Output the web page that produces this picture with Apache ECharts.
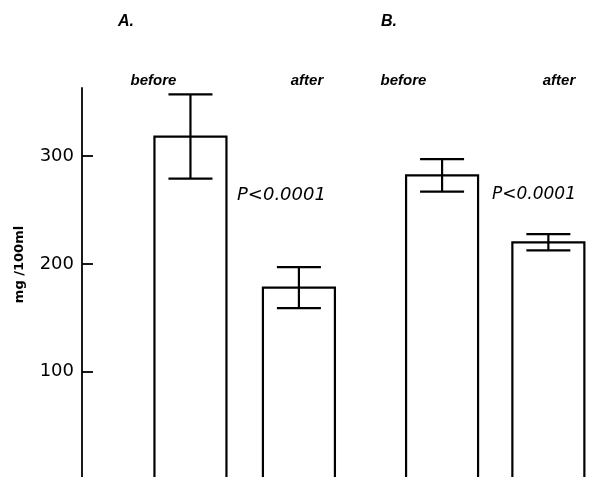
<!DOCTYPE html>
<html><head><meta charset="utf-8">
<script src="https://cdn.jsdelivr.net/npm/echarts@6/dist/echarts.min.js"></script>
<style>html,body{margin:0;padding:0;background:#fff}#c{width:595px;height:477px}</style>
</head><body><div id="c"></div>
<script>
// ---- data ----
const panels = ['A.', 'B.'];
const conditions = ['before', 'after', 'before', 'after'];
const xPositions = [1.0, 2.0, 3.32, 4.3];
const means = [318, 178, 282, 220];
const errors = [39, 19, 15, 7.5];
const yTicks = [100, 200, 300];
const pLabels = ['P<0.0001', 'P<0.0001'];
const yName = 'mg /100ml';

const data = means.map((m, i) => [xPositions[i], m, errors[i]]);

const chart = echarts.init(document.getElementById('c'), null, {renderer: 'canvas'});

const BAR_W = 72, CAP_W = 44;

chart.setOption({
  backgroundColor: '#fff',
  animation: false,
  grid: {left: 82, right: 0, top: 88, bottom: -2.7, outerBoundsMode: 'none', containLabel: false},
  xAxis: {type: 'value', min: 0, max: 4.73, show: false},
  yAxis: {
    type: 'value', min: 0, max: 363,
    splitLine: {show: false},
    axisLine: {show: true, lineStyle: {color: '#000', width: 1.8}},
    axisTick: {show: true, inside: true, length: 11, customValues: yTicks, lineStyle: {color: '#000', width: 1.8}},
    axisLabel: {show: true, customValues: yTicks, color: '#000', fontSize: 18, fontFamily: 'DejaVu Sans', margin: 8}
  },
  series: [
    {
      type: 'custom', clip: false, data: data,
      renderItem: function (params, api) {
        const top = api.coord([api.value(0), api.value(1)]);
        const base = api.coord([api.value(0), 0]);
        return {
          type: 'rect',
          shape: {x: top[0] - BAR_W / 2, y: top[1], width: BAR_W, height: base[1] - top[1]},
          style: {fill: '#fff', stroke: '#000', lineWidth: 2.2}
        };
      }
    },
    {
      type: 'custom', clip: false, data: data,
      renderItem: function (params, api) {
        const x = api.value(0), m = api.value(1), e = api.value(2);
        const hi = api.coord([x, m + e]);
        const lo = api.coord([x, m - e]);
        const st = {stroke: '#000', lineWidth: 2.2};
        return {
          type: 'group',
          children: [
            {type: 'line', shape: {x1: hi[0], y1: hi[1], x2: lo[0], y2: lo[1]}, style: st},
            {type: 'line', shape: {x1: hi[0] - CAP_W / 2, y1: hi[1], x2: hi[0] + CAP_W / 2, y2: hi[1]}, style: st},
            {type: 'line', shape: {x1: lo[0] - CAP_W / 2, y1: lo[1], x2: lo[0] + CAP_W / 2, y2: lo[1]}, style: st}
          ]
        };
      }
    }
  ],
  graphic: [
    {type: 'text', x: 118, y: 22, style: {text: panels[0], font: 'italic bold 16px "Liberation Sans"', fill: '#000', textAlign: 'left', textVerticalAlign: 'middle'}},
    {type: 'text', x: 381, y: 22, style: {text: panels[1], font: 'italic bold 16px "Liberation Sans"', fill: '#000', textAlign: 'left', textVerticalAlign: 'middle'}},
    {type: 'text', x: 153.5, y: 81, style: {text: conditions[0], font: 'italic bold 15px "Liberation Sans"', fill: '#000', textAlign: 'center', textVerticalAlign: 'middle'}},
    {type: 'text', x: 307, y: 81, style: {text: conditions[1], font: 'italic bold 15px "Liberation Sans"', fill: '#000', textAlign: 'center', textVerticalAlign: 'middle'}},
    {type: 'text', x: 403.5, y: 81, style: {text: conditions[2], font: 'italic bold 15px "Liberation Sans"', fill: '#000', textAlign: 'center', textVerticalAlign: 'middle'}},
    {type: 'text', x: 559, y: 81, style: {text: conditions[3], font: 'italic bold 15px "Liberation Sans"', fill: '#000', textAlign: 'center', textVerticalAlign: 'middle'}},
    {type: 'text', x: 237, y: 195, style: {text: pLabels[0], font: 'italic 18px "DejaVu Sans"', fill: '#000', textAlign: 'left', textVerticalAlign: 'middle'}},
    {type: 'text', x: 492, y: 195, style: {text: pLabels[1], font: 'italic 17px "DejaVu Sans"', fill: '#000', textAlign: 'left', textVerticalAlign: 'middle'}},
    {type: 'text', x: 20, y: 264.5, rotation: Math.PI / 2, style: {text: yName, font: 'bold 13px "DejaVu Sans"', fill: '#000', textAlign: 'center', textVerticalAlign: 'middle'}}
  ]
});
</script>
</body></html>
